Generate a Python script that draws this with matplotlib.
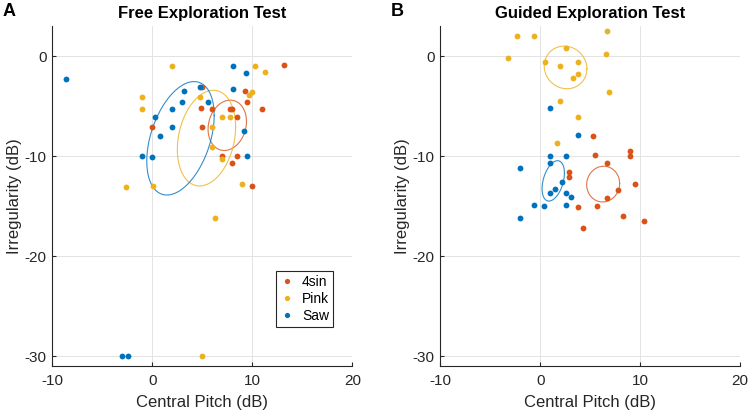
import numpy as np
import matplotlib
matplotlib.use("Agg")
import matplotlib.pyplot as plt

plt.rcParams['font.family'] = ['Liberation Sans', 'DejaVu Sans']
plt.rcParams['axes.unicode_minus'] = False

# series names and colours
series = ["4sin", "Pink", "Saw"]
colors = {"4sin": "#D95319", "Pink": "#EDB120", "Saw": "#0072BD"}

# Free exploration test (panel A)
free_4sin_x = [13.2, 5.0, 9.3, 9.5, 11.0, 4.9, 6.0, 7.75, 8.0, 8.5, 0.0, 5.0, 7.0, 8.5, 8.0, 10.0]
free_4sin_y = [-0.9, -3.05, -3.5, -4.6, -5.3, -5.2, -5.3, -5.3, -5.3, -6.05, -7.05, -7.05, -10.0, -10.0, -10.7, -13.0]
free_pink_x = [2.0, 10.25, 11.25, 10.0, 9.7, -1.0, 4.75, -1.0, 7.0, 7.75, 6.0, 5.95, 7.0, -2.65, 0.05, 9.0, 6.3, 5.0]
free_pink_y = [-1.0, -1.0, -1.6, -3.6, -3.85, -4.05, -4.05, -5.3, -6.05, -6.05, -7.05, -9.1, -10.25, -13.05, -12.95, -12.8, -16.2, -30.0]
free_saw_x = [-8.6, 8.1, 9.35, 8.1, 4.75, 3.15, 2.95, 5.55, 2.0, 0.25, 2.0, 0.8, 9.2, -1.0, 0.0, 9.5, -3.0, -2.45]
free_saw_y = [-2.25, -1.0, -1.65, -3.25, -3.05, -3.5, -4.6, -4.55, -5.3, -6.1, -7.05, -8.0, -7.45, -10.0, -10.05, -10.0, -30.0, -30.0]

# Guided exploration test (panel B)
guided_4sin_x = [5.25, 8.95, 8.95, 5.45, 6.65, 2.85, 2.85, 9.45, 7.8, 6.65, 3.8, 5.65, 8.3, 10.4, 4.3]
guided_4sin_y = [-8.0, -9.45, -9.95, -9.85, -10.7, -11.55, -12.1, -12.8, -13.35, -14.2, -15.1, -14.95, -15.95, -16.5, -17.2]
guided_pink_x = [-2.3, -0.67, 6.63, -3.27, 6.6, 2.62, 0.5, 1.97, 3.8, 3.8, 3.3, 6.83, 1.97, 3.8, 1.63]
guided_pink_y = [2.0, 2.0, 2.5, -0.17, 0.25, 0.77, -0.63, -0.97, -0.63, -1.83, -2.23, -3.6, -4.5, -6.1, -8.73]
guided_saw_x = [1.0, 3.8, 1.0, 2.6, 1.0, -2.07, 2.17, 1.47, 1.0, 2.6, 3.1, -0.67, 0.4, 2.6, -2.07]
guided_saw_y = [-5.23, -7.85, -9.97, -9.97, -10.73, -11.2, -12.6, -13.33, -13.67, -13.67, -14.05, -14.93, -15.0, -14.93, -16.17]

# ellipse centres and covariance terms (sxx, syy, sxy)
free_ell_center = {"4sin": (7.5, -6.92), "Pink": (5.42, -8.2), "Saw": (2.82, -8.22)}
free_ell_cov = {"4sin": (3.69, 6.35, 0.75), "Pink": (8.5, 22.9, 3.3), "Saw": (11.36, 32.2, 7.7)}
guided_ell_center = {"4sin": (6.29, -12.8), "Pink": (2.53, -1.13), "Saw": (1.3, -12.48)}
guided_ell_cov = {"4sin": (2.72, 3.2, 0.1), "Pink": (4.55, 4.55, -0.3), "Saw": (1.25, 4.08, 0.87)}

panels = [
    ("Free Exploration Test", "A",
     {"4sin": (free_4sin_x, free_4sin_y), "Pink": (free_pink_x, free_pink_y), "Saw": (free_saw_x, free_saw_y)},
     free_ell_center, free_ell_cov),
    ("Guided Exploration Test", "B",
     {"4sin": (guided_4sin_x, guided_4sin_y), "Pink": (guided_pink_x, guided_pink_y), "Saw": (guided_saw_x, guided_saw_y)},
     guided_ell_center, guided_ell_cov),
]

fig = plt.figure(figsize=(7.5, 4.15), dpi=100)
ax_pos = [[0.0697, 0.118, 0.4, 0.819], [0.587, 0.118, 0.4, 0.819]]
dark = "#262626"
t = np.linspace(0, 2 * np.pi, 200)

for i, (title, letter, pts, centers, covs) in enumerate(panels):
    ax = fig.add_axes(ax_pos[i])
    for name in series:
        x, y = pts[name]
        ax.plot(x, y, "o", ms=4.2, mec="none", color=colors[name], label=name, zorder=3)
    for name in series:
        cx, cy = centers[name]
        sxx, syy, sxy = covs[name]
        L = np.linalg.cholesky(np.array([[sxx, sxy], [sxy, syy]]))
        e = L @ np.vstack([np.cos(t), np.sin(t)])
        ax.plot(cx + e[0], cy + e[1], color=colors[name], lw=0.8, alpha=0.8, zorder=2)

    ax.set_xlim(-10, 20)
    ax.set_ylim(-31, 3)
    ax.set_xticks([-10, 0, 10, 20])
    ax.set_yticks([-30, -20, -10, 0])
    ax.grid(True, color="#e3e3e3", lw=0.7)
    ax.set_axisbelow(True)
    for s in ["top", "right"]:
        ax.spines[s].set_visible(False)
    for s in ["left", "bottom"]:
        ax.spines[s].set_color(dark)
        ax.spines[s].set_linewidth(0.8)
    ax.tick_params(direction="in", length=3, width=0.8, colors=dark, labelsize=11)
    ax.tick_params(axis="x", pad=6)
    ax.tick_params(axis="y", pad=4)
    ax.set_xlabel("Central Pitch (dB)", fontsize=12, color=dark, labelpad=5)
    ax.set_ylabel("Irregularity (dB)", fontsize=12, color=dark, labelpad=2)
    ax.set_title(title, fontsize=12, fontweight="bold", color="black", pad=6)
    fig.text(ax_pos[i][0] - 0.066, 0.972, letter, fontsize=13, fontweight="bold", ha="left", va="center")

    if i == 0:
        leg = ax.legend(loc="lower right", bbox_to_anchor=(0.937, 0.115), borderaxespad=0, fontsize=10,
                        handlelength=1.0, handletextpad=0.6, borderpad=0.3, labelspacing=0.2,
                        fancybox=False, framealpha=1, edgecolor=dark, markerscale=0.9)
        leg.get_frame().set_linewidth(0.8)

fig.savefig("out.png", dpi=100)
